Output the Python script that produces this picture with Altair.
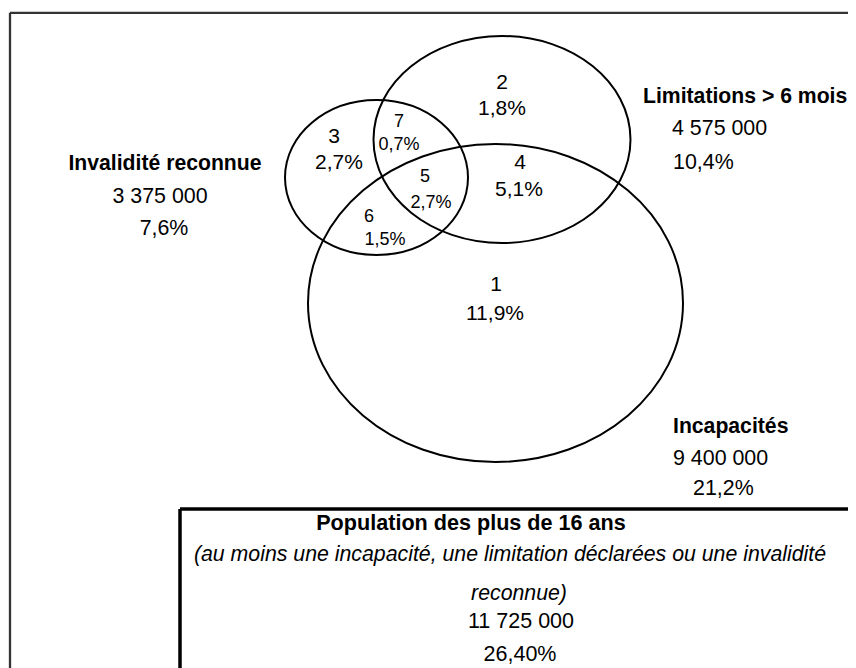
import altair as alt
import pandas as pd

# ---- Venn sets (centre and radii, in drawing pixel units) ----
set_names = ["Invalidité reconnue", "Limitations > 6 mois", "Incapacités"]
set_cx = [376.5, 502.0, 495.5]
set_cy = [177.5, 139.5, 303.0]
set_rx = [91.5, 128.5, 187.5]
set_ry = [77.5, 103.5, 159.0]

# ---- region numbers and shares ----
big_region_text = ["2", "1,8%", "3", "2,7%", "4", "5,1%", "1", "11,9%"]
big_region_x = [502, 502, 334, 339, 520, 519, 496, 495]
big_region_y = [83, 109, 137, 163, 163, 190, 285, 314]

small_region_text = ["7", "0,7%", "5", "2,7%", "6", "1,5%"]
small_region_x = [399, 399, 425, 431, 369, 385]
small_region_y = [122, 145, 177, 203, 217, 240]

# ---- set titles and totals ----
title_text = ["Invalidité reconnue", "Limitations > 6 mois", "Incapacités"]
title_x = [165, 643, 673]
title_y = [164, 97, 427]
title_align = ["center", "left", "left"]

total_text = ["3 375 000", "7,6%", "4 575 000", "10,4%", "9 400 000", "21,2%"]
total_x = [160, 164, 672, 673, 673, 693]
total_y = [197, 229, 129, 163, 459, 489]
total_align = ["center", "center", "left", "left", "left", "left"]

# ---- population box ----
box_title = ["Population des plus de 16 ans"]
box_title_x = [471]
box_title_y = [524]
box_note = ["(au moins une incapacité, une limitation déclarées ou une invalidité", "reconnue)"]
box_note_x = [510, 519]
box_note_y = [555, 594]
box_total = ["11 725 000", "26,40%"]
box_total_x = [521, 520]
box_total_y = [622, 655]

# ---- frame lines ----
frame_x = [10, 10, 180, 180]
frame_x2 = [900, 10, 900, 180]
frame_y = [12.8, 12.8, 509, 509]
frame_y2 = [12.8, 700, 509, 700]
frame_kind = ["outer", "outer", "box", "box"]

FONT = "'Liberation Sans', Arial, sans-serif"

W, H = 840, 660
xs = alt.Scale(domain=[8, 8 + W])
ys = alt.Scale(domain=[8, 8 + H], reverse=True)


def X(f):
    return alt.X(f + ":Q", scale=xs, axis=None)


def Y(f):
    return alt.Y(f + ":Q", scale=ys, axis=None)


def ellipse_path(b):
    k = 0.5523
    return (f"M 1 0 C 1 {k*b:.4f} {k:.4f} {b:.4f} 0 {b:.4f} "
            f"C {-k:.4f} {b:.4f} -1 {k*b:.4f} -1 0 "
            f"C -1 {-k*b:.4f} {-k:.4f} {-b:.4f} 0 {-b:.4f} "
            f"C {k:.4f} {-b:.4f} 1 {-k*b:.4f} 1 0 Z")


layers = []

frames = pd.DataFrame({"x": frame_x, "x2": frame_x2, "y": frame_y, "y2": frame_y2, "kind": frame_kind})
layers.append(
    alt.Chart(frames[frames.kind == "outer"]).mark_rule(color="#333333", strokeWidth=2.3)
    .encode(x=X("x"), x2="x2:Q", y=Y("y"), y2="y2:Q")
)
layers.append(
    alt.Chart(frames[frames.kind == "box"]).mark_rule(color="#000000", strokeWidth=3.5)
    .encode(x=X("x"), x2="x2:Q", y=Y("y"), y2="y2:Q")
)

for name, cx, cy, rx, ry in zip(set_names, set_cx, set_cy, set_rx, set_ry):
    d = pd.DataFrame({"set": [name], "cx": [cx], "cy": [cy]})
    layers.append(
        alt.Chart(d).mark_point(
            shape=ellipse_path(ry / rx), size=(2 * rx) ** 2, filled=False,
            stroke="black", color="black", strokeWidth=2, opacity=1
        ).encode(x=X("cx"), y=Y("cy"))
    )


def text_layer(texts, xs_, ys_, size, weight="normal", style="normal", align="center"):
    d = pd.DataFrame({"t": texts, "x": xs_, "y": ys_})
    return alt.Chart(d).mark_text(
        font=FONT, fontSize=size, fontWeight=weight, fontStyle=style,
        align=align, baseline="middle", color="black"
    ).encode(x=X("x"), y=Y("y"), text="t:N")


layers.append(text_layer(big_region_text, big_region_x, big_region_y, 21))
layers.append(text_layer(small_region_text, small_region_x, small_region_y, 18))

for i in range(3):
    layers.append(text_layer([title_text[i]], [title_x[i]], [title_y[i]], 21.2,
                             weight="bold", align=title_align[i]))
for i in range(len(total_text)):
    layers.append(text_layer([total_text[i]], [total_x[i]], [total_y[i]], 21.4,
                             align=total_align[i]))

layers.append(text_layer(box_title, box_title_x, box_title_y, 21.6, weight="bold"))
layers.append(text_layer(box_note, box_note_x, box_note_y, 21.3, style="italic"))
layers.append(text_layer(box_total, box_total_x, box_total_y, 21.5))

chart = alt.layer(*layers).properties(
    width=W, height=H, padding=0, background="white",
    autosize=alt.AutoSizeParams(type="none")
).configure_view(stroke=None)

chart.save("out.html", embed_options={"renderer": "svg", "actions": False})
